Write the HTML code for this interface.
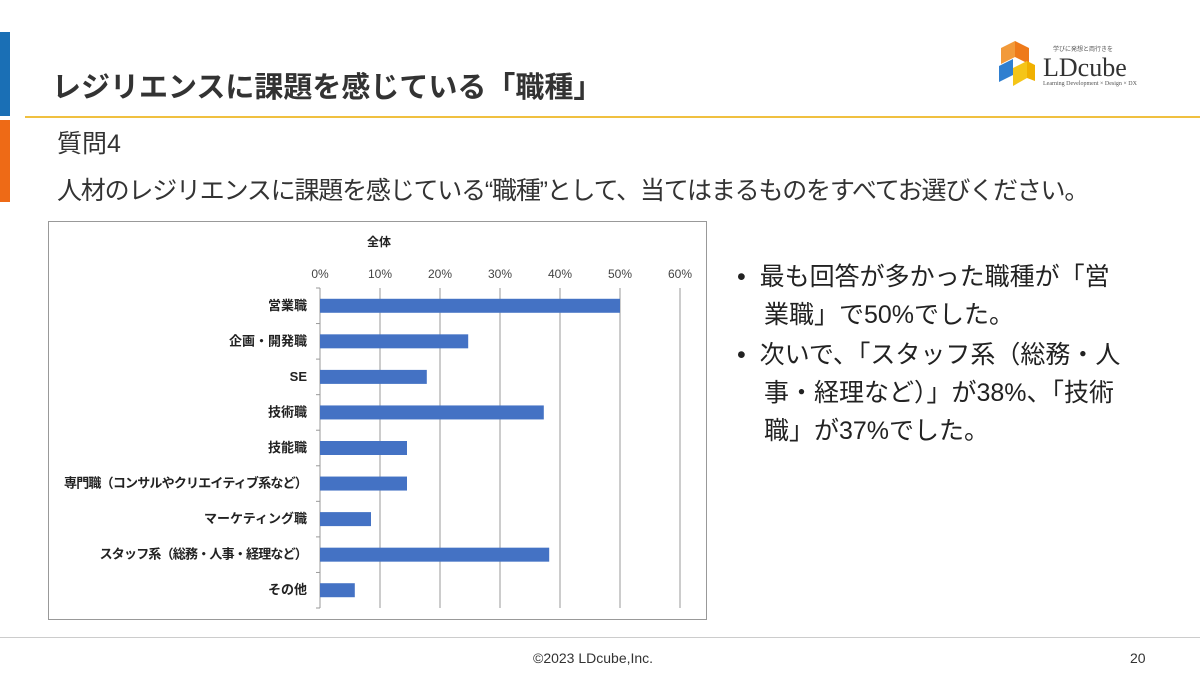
<!DOCTYPE html>
<html><head><meta charset="utf-8"><style>
body{margin:0;width:1200px;height:675px;background:#fff;position:relative;overflow:hidden;font-family:"Liberation Sans","Noto Sans CJK JP",sans-serif;}
.abs{position:absolute;}
</style></head><body>
<div class="abs" style="left:0;top:32px;width:10px;height:84px;background:#1a6fb5"></div>
<div class="abs" style="left:0;top:120px;width:10px;height:82px;background:#ee6a16"></div>
<div class="abs" style="left:52px;top:64px;font-size:29px;font-weight:bold;color:#333">レジリエンスに課題を感じている「職種」</div>
<div class="abs" style="left:25px;top:116px;width:1175px;height:2px;background:#f0c040"></div>
<div class="abs" style="left:995px;top:38px;width:160px;height:52px">
<svg width="160" height="52"><polygon points="20,3 34,10 34,26 20,19" fill="#ee7a1a"/><polygon points="6,10 20,3 20,19 6,26" fill="#f29a3a"/><polygon points="4,28 18,21 18,37 4,44" fill="#2f7fd0"/><polygon points="18,30 32,23 32,40 18,48" fill="#f5c518"/><polygon points="32,23 40,27 40,43 32,40" fill="#f0b000"/>
<text x="48" y="38" font-family="Liberation Serif,serif" font-size="26" fill="#333">LDcube</text>
<text x="58" y="13" font-size="6" fill="#555" font-family="Noto Sans CJK JP,sans-serif">学びに発想と両行きを</text>
<text x="48" y="47" font-size="6" fill="#555" font-family="Liberation Serif,serif">Learning Development × Design × DX</text></svg></div>
<div class="abs" style="left:57px;top:124px;font-size:25px;color:#333">質問4</div>
<div class="abs" style="left:57px;top:171px;font-size:25px;color:#333;letter-spacing:-1.2px">人材のレジリエンスに課題を感じている“職種”として、当てはまるものをすべてお選びください。</div>
<div class="abs" style="left:48px;top:221px;width:659px;height:399px;border:1px solid #999;box-sizing:border-box"></div>
<svg class="abs" style="left:0;top:0" width="1200" height="675" id="chart"></svg>
<div class="abs" style="left:737px;top:258px;width:440px;font-size:25px;line-height:38px;color:#222;white-space:nowrap">
<div style="padding-left:27px;text-indent:-27px;margin-bottom:2px">•&nbsp; 最も回答が多かった職種が「営<br>業職」で50%でした。</div>
<div style="padding-left:27px;text-indent:-27px">•&nbsp; 次いで、「スタッフ系（総務・人<br>事・経理など）」が38%、「技術<br>職」が37%でした。</div></div>
<div class="abs" style="left:0;top:637px;width:1200px;height:1px;background:#ccc"></div>
<div class="abs" style="left:533px;top:650px;font-size:14px;color:#333">©2023 LDcube,Inc.</div>
<div class="abs" style="left:1130px;top:650px;font-size:14px;color:#333">20</div>
<script>
const categories=["営業職","企画・開発職","SE","技術職","技能職","専門職（コンサルやクリエイティブ系など）","マーケティング職","スタッフ系（総務・人事・経理など）","その他"];
const values=[50,24.7,17.8,37.3,14.5,14.5,8.5,38.2,5.8];
const ticks=[0,10,20,30,40,50,60];
const tickLabels=["0%","10%","20%","30%","40%","50%","60%"];
const svg=document.getElementById('chart');const NS="http://www.w3.org/2000/svg";
const x0=320,x1=680,y0=288,y1=608;
const xs=v=>x0+(v-0)/(60-0)*(x1-x0);
const band=(y1-y0)/categories.length;
const ys=i=>y0+band*i+band/2;
function mk(t,a){const e=document.createElementNS(NS,t);for(const k in a)e.setAttribute(k,a[k]);svg.appendChild(e);return e;}
const ttl=mk('text',{x:379,y:246,'font-size':12,'font-weight':'bold','text-anchor':'middle',fill:'#222','font-family':'Liberation Sans,Noto Sans CJK JP,sans-serif'});ttl.textContent='全体';


ticks.forEach((t,i)=>{
const g=mk('line',{x1:xs(t),x2:xs(t),y1:y0,y2:y1,stroke:'#999','stroke-width':1});


const l=mk('text',{x:xs(t),y:278,'font-size':12,'text-anchor':'middle',fill:'#444','font-family':'Liberation Sans,sans-serif'});l.textContent=tickLabels[i];


});
for(let i=0;i<=categories.length;i++){const tk=mk('line',{x1:x0-4,x2:x0,y1:y0+band*i,y2:y0+band*i,stroke:'#999'});

}
categories.forEach((c,i)=>{
const b=mk('rect',{x:xs(0),y:ys(i)-7,width:xs(values[i])-xs(0),height:14,fill:'#4472c4'});


const l=mk('text',{x:307,y:ys(i)+4,'font-size':13,'font-weight':'bold','text-anchor':'end',fill:'#222','font-family':'Liberation Sans,Noto Sans CJK JP,sans-serif'});l.textContent=c;
if(c.length>15)l.setAttribute('letter-spacing','-0.8');


});
</script>
</body></html>
